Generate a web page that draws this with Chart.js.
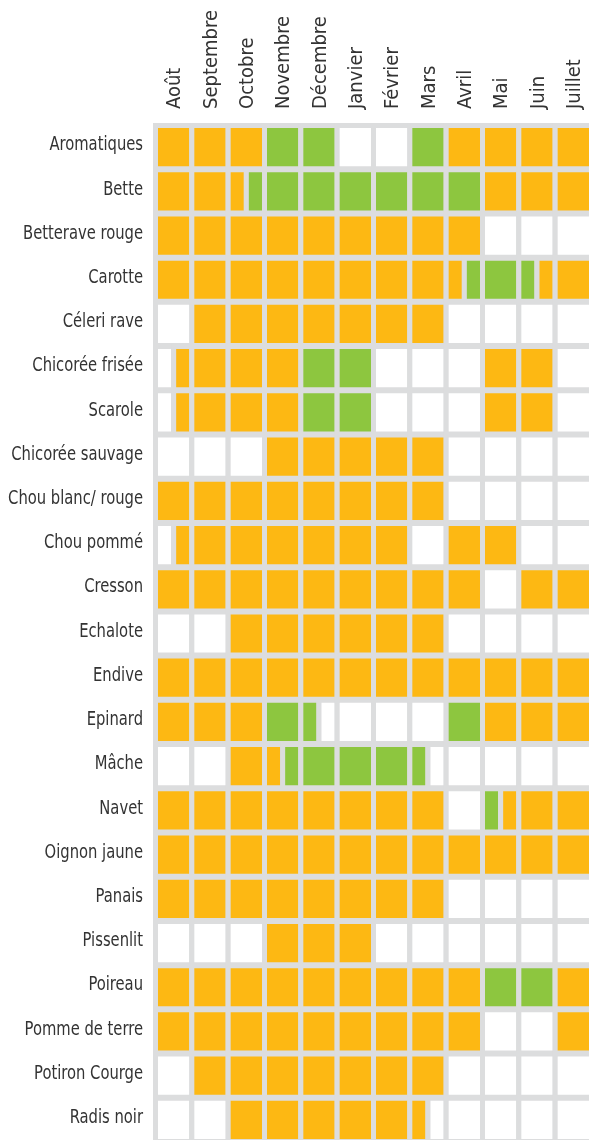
<!DOCTYPE html>
<html>
<head>
<meta charset="utf-8">
<script src="https://cdn.jsdelivr.net/npm/chart.js@4/dist/chart.umd.min.js"></script>
<style>
  html, body { margin: 0; padding: 0; background: #ffffff; }
  #c { display: block; }
</style>
</head>
<body>
<canvas id="c" width="589" height="1140"></canvas>
<script>
// ---- Data ----
const months = ['Août', 'Septembre', 'Octobre', 'Novembre', 'Décembre', 'Janvier',
                'Février', 'Mars', 'Avril', 'Mai', 'Juin', 'Juillet'];

const vegetables = ['Aromatiques', 'Bette', 'Betterave rouge', 'Carotte', 'Céleri rave',
  'Chicorée frisée', 'Scarole', 'Chicorée sauvage', 'Chou blanc/ rouge', 'Chou pommé',
  'Cresson', 'Echalote', 'Endive', 'Epinard', 'Mâche', 'Navet', 'Oignon jaune', 'Panais',
  'Pissenlit', 'Poireau', 'Pomme de terre', 'Potiron Courge', 'Radis noir'];

// one entry per vegetable, one 2-letter group per month (first half / second half)
// o = orange, g = green, . = none
const seasons = [
  'oo oo oo gg gg .. .. gg oo oo oo oo', // Aromatiques
  'oo oo og gg gg gg gg gg gg oo oo oo', // Bette
  'oo oo oo oo oo oo oo oo oo .. .. ..', // Betterave rouge
  'oo oo oo oo oo oo oo oo og gg go oo', // Carotte
  '.. oo oo oo oo oo oo oo .. .. .. ..', // Céleri rave
  '.o oo oo oo gg gg .. .. .. oo oo ..', // Chicorée frisée
  '.o oo oo oo gg gg .. .. .. oo oo ..', // Scarole
  '.. .. .. oo oo oo oo oo .. .. .. ..', // Chicorée sauvage
  'oo oo oo oo oo oo oo oo .. .. .. ..', // Chou blanc/ rouge
  '.o oo oo oo oo oo oo .. oo oo .. ..', // Chou pommé
  'oo oo oo oo oo oo oo oo oo .. oo oo', // Cresson
  '.. .. oo oo oo oo oo oo .. .. .. ..', // Echalote
  'oo oo oo oo oo oo oo oo oo oo oo oo', // Endive
  'oo oo oo gg g. .. .. .. gg oo oo oo', // Epinard
  '.. .. oo og gg gg gg g. .. .. .. ..', // Mâche
  'oo oo oo oo oo oo oo oo .. go oo oo', // Navet
  'oo oo oo oo oo oo oo oo oo oo oo oo', // Oignon jaune
  'oo oo oo oo oo oo oo oo .. .. .. ..', // Panais
  '.. .. .. oo oo oo .. .. .. .. .. ..', // Pissenlit
  'oo oo oo oo oo oo oo oo oo gg gg oo', // Poireau
  'oo oo oo oo oo oo oo oo oo .. .. oo', // Pomme de terre
  '.. oo oo oo oo oo oo oo .. .. .. ..', // Potiron Courge
  '.. .. oo oo oo oo oo o. .. .. .. ..'  // Radis noir
];

// ---- Build floating bar segments ----
const palette = { o: '#FDB813', g: '#8DC63F', '.': '#FFFFFF' };
const segs = { o: [], g: [], '.': [] };
vegetables.forEach((name, r) => {
  seasons[r].split(' ').forEach((m, k) => {
    if (m[0] === m[1]) {
      segs[m[0]].push({ x: [k, k + 1], y: name });
    } else {
      segs[m[0]].push({ x: [k, k + 0.5], y: name });
      segs[m[1]].push({ x: [k + 0.5, k + 1], y: name });
    }
  });
});

const GREY = '#DCDDDE';
const TEXT = '#333333';
const FONT = "'DejaVu Sans Condensed', 'DejaVu Sans', sans-serif";
const ROW_SQUEEZE = 0.82;

// Category scale whose tick labels are drawn horizontally condensed
class SqueezedCategoryScale extends Chart.CategoryScale {
  _computeLabelArea() { return undefined; }
  drawLabels(area) {
    const ctx = this.ctx;
    const ax = this.right - this.options.ticks.padding;
    ctx.save();
    ctx.translate(ax, 0);
    ctx.scale(ROW_SQUEEZE, 1);
    ctx.translate(-ax, 0);
    super.drawLabels(area);
    ctx.restore();
  }
}
SqueezedCategoryScale.id = 'squeezedCategory';
SqueezedCategoryScale.defaults = Chart.CategoryScale.defaults;
Chart.register(SqueezedCategoryScale);

const barStyle = {
  borderColor: GREY,
  borderWidth: { left: 5, top: 5, right: 0, bottom: 1 },
  borderSkipped: false,
  inflateAmount: 0,
  barPercentage: 1,
  categoryPercentage: 1,
  grouped: false
};

const datasets = ['.', 'o', 'g'].map(key => Object.assign({
  label: key,
  data: segs[key],
  backgroundColor: palette[key]
}, barStyle));

const gridBackground = {
  id: 'gridBackground',
  beforeDatasetsDraw(chart) {
    const { ctx, chartArea: a } = chart;
    ctx.save();
    ctx.fillStyle = GREY;
    ctx.fillRect(a.left, a.top, a.right - a.left, a.bottom - a.top);
    ctx.restore();
  }
};

new Chart(document.getElementById('c'), {
  type: 'bar',
  data: { datasets },
  plugins: [gridBackground],
  options: {
    indexAxis: 'y',
    responsive: false,
    animation: false,
    layout: { padding: 0 },
    plugins: { legend: { display: false }, tooltip: { enabled: false } },
    scales: {
      x: { type: 'linear', min: 0, max: 12, display: false },
      xm: {
        type: 'category',
        labels: months,
        position: 'top',
        offset: true,
        grid: { display: false },
        border: { display: false },
        ticks: {
          minRotation: 90, maxRotation: 90, autoSkip: false,
          padding: 6, labelOffset: 28,
          color: TEXT,
          font: { family: FONT, size: 20 }
        },
        afterFit(s) { s.height = 123; s.paddingLeft = 0; s.paddingRight = 0; }
      },
      y: {
        type: 'squeezedCategory',
        labels: vegetables,
        offset: true,
        grid: { display: false, drawTicks: false },
        border: { display: false },
        ticks: {
          autoSkip: false, padding: 10,
          color: TEXT,
          font: { family: FONT, size: 20 }
        },
        afterFit(s) { s.width = 153; s.paddingTop = 0; s.paddingBottom = 0; }
      }
    }
  }
});
</script>
</body>
</html>
